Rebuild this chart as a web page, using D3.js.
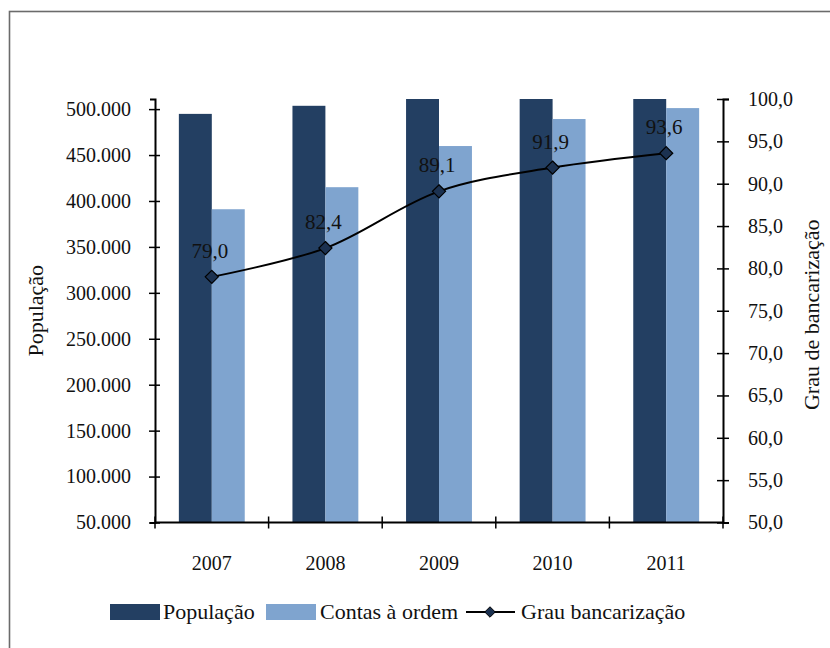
<!DOCTYPE html>
<html>
<head>
<meta charset="utf-8">
<script src="https://cdn.jsdelivr.net/npm/d3@7"></script>
<style>
  html, body { margin: 0; padding: 0; background: #fff; }
  svg { display: block; }
</style>
</head>
<body>
<svg id="chart" width="830" height="648"></svg>
<script>
// Data
const years = ["2007", "2008", "2009", "2010", "2011"];
const populacao = [494800, 503600, 516000, 532300, 535400];
const contas = [391000, 415000, 459800, 489200, 501100];
const grau = [79.0, 82.4, 89.1, 91.9, 93.6];
const leftTicks = [50000, 100000, 150000, 200000, 250000, 300000, 350000, 400000, 450000, 500000];
const rightTicks = [50, 55, 60, 65, 70, 75, 80, 85, 90, 95, 100];

const SERIF = "Liberation Serif, Times New Roman, Tinos, DejaVu Serif, serif";
const svg = d3.select("#chart").attr("font-family", SERIF);
const W = 830, H = 648;
const plot = { left: 155, right: 723, top: 99, bottom: 522.5 };
const darkBlue = "#233f62";
const lightBlue = "#7fa4cf";
const tickSize = 20, titleSize = 22, labelSize = 21, legendSize = 22;

// Outer frame
svg.append("rect")
  .attr("x", 9.5).attr("y", 11.5)
  .attr("width", W + 20).attr("height", H + 20)
  .attr("fill", "none").attr("stroke", "#6b6b6b").attr("stroke-width", 1.6);

// Scales
const x = d3.scaleBand().domain(years).range([plot.left, plot.right]).padding(0);
const yL = d3.scaleLinear().domain([50000, 511000]).range([plot.bottom, plot.top]);
const yR = d3.scaleLinear().domain([50, 100]).range([plot.bottom, plot.top]);

const fmtPt = v => d3.format(",")(v).replace(/,/g, ".");
const fmtComma = v => d3.format(".1f")(v).replace(".", ",");

// Clip bars to the plot area
svg.append("clipPath").attr("id", "plotClip")
  .append("rect")
  .attr("x", plot.left).attr("y", plot.top)
  .attr("width", plot.right - plot.left).attr("height", plot.bottom - plot.top);

const barW = x.bandwidth() * 0.29;
const bars = svg.append("g").attr("clip-path", "url(#plotClip)");

bars.selectAll("rect.pop").data(years).join("rect")
  .attr("class", "pop")
  .attr("x", d => x(d) + x.bandwidth() / 2 - barW)
  .attr("width", barW)
  .attr("y", (d, i) => yL(populacao[i]))
  .attr("height", (d, i) => plot.bottom - yL(populacao[i]))
  .attr("fill", darkBlue);

bars.selectAll("rect.contas").data(years).join("rect")
  .attr("class", "contas")
  .attr("x", d => x(d) + x.bandwidth() / 2)
  .attr("width", barW)
  .attr("y", (d, i) => yL(contas[i]))
  .attr("height", (d, i) => plot.bottom - yL(contas[i]))
  .attr("fill", lightBlue);

// Axes
function styleAxis(g) {
  g.attr("font-family", SERIF).attr("font-size", tickSize);
  g.selectAll("path.domain").attr("stroke", "#000").attr("stroke-width", 2);
  g.selectAll(".tick line").attr("stroke", "#000").attr("stroke-width", 1.5);
  g.selectAll(".tick text").attr("fill", "#111");
}

const gL = svg.append("g")
  .attr("transform", `translate(${plot.left},0)`)
  .call(d3.axisLeft(yL).tickValues(leftTicks).tickFormat(fmtPt).tickSizeOuter(0).tickSize(5).tickPadding(19));
gL.selectAll(".tick line").attr("x2", 5).attr("x1", -6);
styleAxis(gL);

const gR = svg.append("g")
  .attr("transform", `translate(${plot.right},0)`)
  .call(d3.axisRight(yR).tickValues(rightTicks).tickFormat(fmtComma).tickSizeOuter(0).tickSize(6).tickPadding(19));
gR.selectAll(".tick line").attr("x1", -6).attr("x2", 6);
styleAxis(gR);

// Category axis with ticks at band boundaries
const gX = svg.append("g").attr("transform", `translate(0,${plot.bottom})`)
  .attr("font-family", SERIF).attr("font-size", tickSize);
gX.append("line")
  .attr("x1", plot.left).attr("x2", plot.right)
  .attr("stroke", "#000").attr("stroke-width", 2);
const bounds = years.map(d => x(d)).concat([plot.right]);
gX.selectAll("line.tk").data(bounds).join("line")
  .attr("class", "tk")
  .attr("x1", d => d).attr("x2", d => d)
  .attr("y1", -6).attr("y2", 6)
  .attr("stroke", "#000").attr("stroke-width", 1.5);
gX.selectAll("text").data(years).join("text")
  .attr("x", d => x(d) + x.bandwidth() / 2)
  .attr("y", 47)
  .attr("text-anchor", "middle")
  .attr("fill", "#111")
  .text(d => d);

// Axis titles
svg.append("text")
  .attr("transform", `translate(43,${(plot.top + plot.bottom) / 2}) rotate(-90)`)
  .attr("text-anchor", "middle")
  .attr("font-size", titleSize).attr("fill", "#111")
  .text("População");
svg.append("text")
  .attr("transform", `translate(819,${(plot.top + plot.bottom) / 2 + 4}) rotate(-90)`)
  .attr("text-anchor", "middle")
  .attr("font-size", titleSize).attr("fill", "#111")
  .text("Grau de bancarização");

// Line
const cx = d => x(d) + x.bandwidth() / 2;
const line = d3.line()
  .x((d, i) => cx(years[i]))
  .y(d => yR(d))
  .curve(d3.curveCatmullRom.alpha(0.5));
svg.append("path")
  .datum(grau)
  .attr("d", line)
  .attr("fill", "none").attr("stroke", "#000").attr("stroke-width", 2);

const diamond = d3.symbol().type(d3.symbolDiamond2).size(110);
svg.selectAll("path.mk").data(grau).join("path")
  .attr("class", "mk")
  .attr("transform", (d, i) => `translate(${cx(years[i])},${yR(d)})`)
  .attr("d", diamond)
  .attr("fill", "#1b3150").attr("stroke", "#000").attr("stroke-width", 1.2);

svg.selectAll("text.lbl").data(grau).join("text")
  .attr("class", "lbl")
  .attr("x", (d, i) => cx(years[i]) - 2)
  .attr("y", d => yR(d) - 19)
  .attr("text-anchor", "middle")
  .attr("font-size", labelSize).attr("fill", "#111")
  .text(d => fmtComma(d));

// Legend
const lg = svg.append("g").attr("transform", "translate(0,612)").attr("font-size", legendSize).attr("fill", "#111");
lg.append("rect").attr("x", 110).attr("y", -8).attr("width", 50).attr("height", 16).attr("fill", darkBlue);
lg.append("text").attr("x", 163).attr("y", 7).text("População");
lg.append("rect").attr("x", 266).attr("y", -8).attr("width", 50).attr("height", 16).attr("fill", lightBlue);
lg.append("text").attr("x", 320).attr("y", 7).text("Contas à ordem");
lg.append("line").attr("x1", 466).attr("x2", 515).attr("y1", 0).attr("y2", 0).attr("stroke", "#000").attr("stroke-width", 2);
lg.append("path").attr("transform", "translate(490,0)").attr("d", d3.symbol().type(d3.symbolDiamond2).size(70))
  .attr("fill", "#1b3150").attr("stroke", "#000").attr("stroke-width", 1);
lg.append("text").attr("x", 521).attr("y", 7).text("Grau bancarização");
</script>
</body>
</html>
